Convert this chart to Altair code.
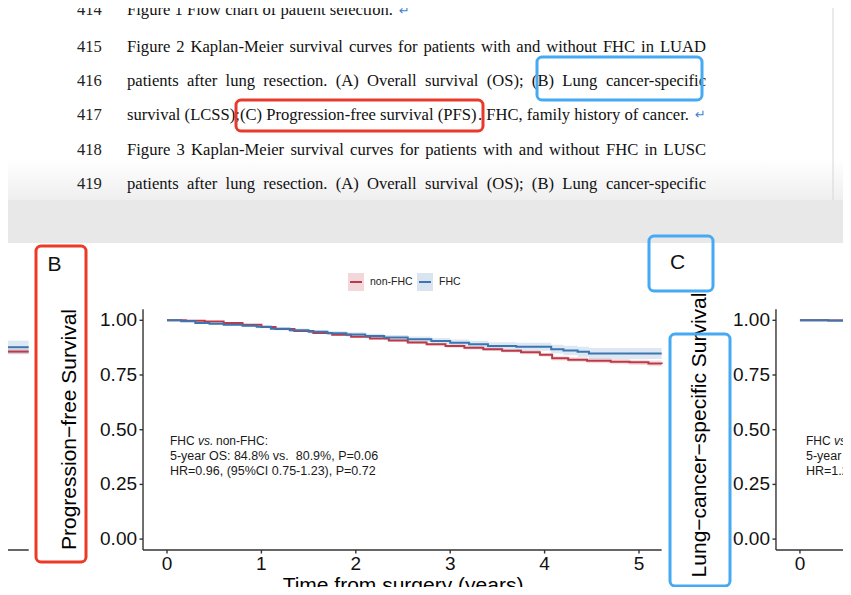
import altair as alt
import pandas as pd

# ---------------- data ----------------
groups = ["non-FHC", "FHC"]
group_colors = ["#BC3A48", "#3A76B1"]
legend_bg = ["#F2D8DB", "#D9E4F0"]

# Panel B (progression-free survival): Kaplan-Meier steps
b_fhc_time = [0.0, 0.15, 0.30, 0.45, 0.60, 0.80, 0.95, 1.10, 1.30, 1.50, 1.70, 1.90, 2.10,
              2.30, 2.55, 2.80, 3.00, 3.20, 3.40, 3.70, 4.07, 4.20, 4.35, 4.47, 5.24]
b_fhc_surv = [1.000, 0.996, 0.988, 0.984, 0.980, 0.975, 0.970, 0.961, 0.954, 0.948, 0.941, 0.935, 0.928,
              0.921, 0.913, 0.905, 0.897, 0.890, 0.883, 0.879, 0.868, 0.862, 0.856, 0.848, 0.848]
b_fhc_ci = [0.000, 0.002, 0.004, 0.004, 0.005, 0.006, 0.006, 0.007, 0.008, 0.008, 0.009, 0.010, 0.011,
            0.012, 0.013, 0.014, 0.015, 0.016, 0.017, 0.018, 0.020, 0.022, 0.023, 0.025, 0.025]
b_non_time = [0.0, 0.20, 0.40, 0.60, 0.80, 1.00, 1.15, 1.35, 1.55, 1.75, 1.95, 2.15, 2.35, 2.55,
              2.75, 2.95, 3.15, 3.35, 3.55, 3.75, 3.95, 4.08, 4.25, 4.45, 4.70, 4.90, 5.10, 5.24]
b_non_surv = [1.000, 0.998, 0.994, 0.988, 0.980, 0.969, 0.960, 0.951, 0.942, 0.934, 0.925, 0.917, 0.908, 0.899,
              0.890, 0.882, 0.874, 0.868, 0.861, 0.854, 0.842, 0.826, 0.820, 0.815, 0.811, 0.808, 0.803, 0.800]
b_non_ci = [0.000, 0.001, 0.002, 0.002, 0.003, 0.003, 0.004, 0.004, 0.004, 0.005, 0.005, 0.005, 0.006, 0.006,
            0.006, 0.007, 0.007, 0.008, 0.008, 0.009, 0.009, 0.010, 0.011, 0.011, 0.012, 0.012, 0.013, 0.013]

# Panel A: only its right-hand end shows at the left edge
a_fhc_time = [4.95, 5.24]
a_fhc_surv = [0.877, 0.877]
a_fhc_ci = [0.030, 0.030]
a_non_time = [4.95, 5.24]
a_non_surv = [0.857, 0.857]
a_non_ci = [0.012, 0.012]

# Panel C: only its start shows at the right edge
c_fhc_time = [0.0, 0.30, 0.55]
c_fhc_surv = [1.000, 0.999, 0.997]
c_fhc_ci = [0.000, 0.001, 0.002]
c_non_time = [0.0, 0.30, 0.55]
c_non_surv = [1.000, 0.999, 0.996]
c_non_ci = [0.000, 0.001, 0.002]

x_ticks = [0, 1, 2, 3, 4, 5]
x_tick_labels = ["0", "1", "2", "3", "4", "5"]
y_ticks = [0.0, 0.25, 0.50, 0.75, 1.00]
y_tick_labels = ["0.00", "0.25", "0.50", "0.75", "1.00"]

doc_numbers = ["414", "415", "416", "417", "418", "419"]
doc_lines = [
    "Figure 1 Flow chart of patient selection.",
    "Figure 2 Kaplan-Meier survival curves for patients with and without FHC in LUAD",
    "patients after lung resection. (A) Overall survival (OS); (B) Lung cancer-specific",
    "survival (LCSS); (C) Progression-free survival (PFS). FHC, family history of cancer.",
    "Figure 3 Kaplan-Meier survival curves for patients with and without FHC in LUSC",
    "patients after lung resection. (A) Overall survival (OS); (B) Lung cancer-specific",
]
doc_justified = [False, True, True, False, True, True]
annot_b = ["FHC", "vs.", "non-FHC:", "5-year OS: 84.8% vs.\u00a0 80.9%, P=0.06",
           "HR=0.96, (95%CI 0.75-1.23), P=0.72"]
annot_c = ["FHC", "vs.", "non-FHC:", "5-year OS", "HR=1.23"]
panel_letters = ["B", "C"]
y_titles = ["Progression\u2212free Survival", "Lung\u2212cancer\u2212specific Survival"]
x_title = "Time from surgery (years)"

# ---------------- layout ----------------
W, H = 835, 579
SHIFT = 6.705            # distance between neighbouring panels, in years
OFF = {"A": -SHIFT, "B": 0.0, "C": SHIFT}
XL, XR = -0.254, 5.24    # axis extent of a panel (years)
YB, YT = -0.05, 1.05     # axis extent of a panel (survival)
PX_PER_YEAR, PX_PER_UNIT = 94.4, 218.8
TICK = 3.5

xs = alt.Scale(domain=[-159 / PX_PER_YEAR, (W - 159) / PX_PER_YEAR], nice=False, zero=False)
ys = alt.Scale(domain=[1 - (H - 312.3) / PX_PER_UNIT, 1 + 312.3 / PX_PER_UNIT], nice=False, zero=False)

SANS = "Liberation Sans"
SERIF = "Liberation Serif"
AXIS_COL = "#333333"
ONE = pd.DataFrame({"d": [0]})
DOC_SIZE = 16.6
DOC_LEFT, DOC_RIGHT = 119, 698

# Times-style advance widths (1/1000 em) used to set justified lines word by word
_TW = {" ": 250, "(": 333, ")": 333, ",": 250, "-": 333, ".": 250, ":": 278, ";": 278,
       "A": 722, "B": 667, "C": 667, "D": 722, "E": 611, "F": 556, "H": 722, "K": 722, "L": 611,
       "M": 889, "O": 722, "P": 556, "S": 556, "U": 722,
       "a": 444, "b": 500, "c": 444, "d": 500, "e": 444, "f": 333, "g": 500, "h": 500, "i": 278,
       "k": 500, "l": 278, "m": 778, "n": 500, "o": 500, "p": 500, "r": 333, "s": 389, "t": 278,
       "u": 500, "v": 500, "w": 722, "y": 500}


def text_width(s, size):
    return sum(_TW.get(ch, 500) for ch in s) / 1000.0 * size


# ---------------- curves ----------------
rows = []
curve_sets = [
    ("A", [(groups[0], a_non_time, a_non_surv, a_non_ci), (groups[1], a_fhc_time, a_fhc_surv, a_fhc_ci)]),
    ("B", [(groups[0], b_non_time, b_non_surv, b_non_ci), (groups[1], b_fhc_time, b_fhc_surv, b_fhc_ci)]),
    ("C", [(groups[0], c_non_time, c_non_surv, c_non_ci), (groups[1], c_fhc_time, c_fhc_surv, c_fhc_ci)]),
]
for panel, series in curve_sets:
    for g, ts, ss, cs in series:
        for t, s, c in zip(ts, ss, cs):
            rows.append({"panel": panel, "group": g, "x": t + OFF[panel], "s": s,
                         "lo": s - c, "hi": s + c, "series": panel + g})
curves = pd.DataFrame(rows)

color = alt.Color("group:N", scale=alt.Scale(domain=groups, range=group_colors), legend=None)

bands = alt.Chart(curves).mark_area(interpolate="step-after", opacity=0.17).encode(
    x=alt.X("x:Q", scale=xs, axis=None),
    y=alt.Y("lo:Q", scale=ys, axis=None),
    y2="hi:Q",
    color=color,
    detail="series:N",
)
lines = alt.Chart(curves).mark_line(interpolate="step-after", strokeWidth=2).encode(
    x=alt.X("x:Q", scale=xs, axis=None),
    y=alt.Y("s:Q", scale=ys, axis=None),
    color=color,
    detail="series:N",
)

# ---------------- custom axes ----------------
ax_rows = []
for p in ["A", "B", "C"]:
    o = OFF[p]
    ax_rows.append({"x": XL + o, "x2": XR + o, "y": YB, "y2": YB})
    if p != "A":
        ax_rows.append({"x": XL + o, "x2": XL + o, "y": YB, "y2": YT})
        for t in x_ticks:
            ax_rows.append({"x": t + o, "x2": t + o, "y": YB, "y2": YB - TICK / PX_PER_UNIT})
        for v in y_ticks:
            ax_rows.append({"x": XL + o, "x2": XL + o - TICK / PX_PER_YEAR, "y": v, "y2": v})
axis_df = pd.DataFrame(ax_rows)
axis_rules = alt.Chart(axis_df).mark_rule(color=AXIS_COL, strokeWidth=1.4).encode(
    x=alt.X("x:Q", scale=xs, axis=None), x2="x2:Q",
    y=alt.Y("y:Q", scale=ys, axis=None), y2="y2:Q",
)

xl_rows, yl_rows = [], []
for p in ["B", "C"]:
    o = OFF[p]
    for t, lab in zip(x_ticks, x_tick_labels):
        xl_rows.append({"x": t + o, "y": YB, "label": lab})
    for v, lab in zip(y_ticks, y_tick_labels):
        yl_rows.append({"x": XL + o, "y": v, "label": lab})
x_labels = alt.Chart(pd.DataFrame(xl_rows)).mark_text(
    font=SANS, fontSize=19, color="#111111", dy=14, baseline="middle", align="center"
).encode(x=alt.X("x:Q", scale=xs, axis=None), y=alt.Y("y:Q", scale=ys, axis=None), text="label:N")
y_labels = alt.Chart(pd.DataFrame(yl_rows)).mark_text(
    font=SANS, fontSize=19, color="#111111", dx=-6, baseline="middle", align="right"
).encode(x=alt.X("x:Q", scale=xs, axis=None), y=alt.Y("y:Q", scale=ys, axis=None), text="label:N")


# ---------------- decoration helpers ----------------
def txt(text, x, y, size, font=SANS, color="#111111", align="left", baseline="middle",
        angle=0, style="normal"):
    return alt.Chart(pd.DataFrame({"label": [text]})).mark_text(
        font=font, fontSize=size, color=color, align=align, baseline=baseline,
        angle=angle, fontStyle=style
    ).encode(x=alt.value(x), y=alt.value(y), text="label:N")


def box(x, x2, y, y2, stroke, width=3, radius=5):
    return alt.Chart(ONE).mark_rect(
        fill="transparent", stroke=stroke, strokeWidth=width, cornerRadius=radius
    ).encode(x=alt.value(x), x2=alt.value(x2), y=alt.value(y), y2=alt.value(y2))


def block(x, x2, y, y2, fill):
    return alt.Chart(ONE).mark_rect(color=fill).encode(
        x=alt.value(x), x2=alt.value(x2), y=alt.value(y), y2=alt.value(y2))


layers = []

# document page background pieces
shade = alt.Gradient(gradient="linear", x1=0, x2=0, y1=0, y2=1,
                     stops=[alt.GradientStop(color="#ffffff", offset=0),
                            alt.GradientStop(color="#efefef", offset=1)])
layers.append(block(0, W, 150, 192, shade))
layers.append(block(0, W, 192, 235, "#e8e8e8"))
layers.append(alt.Chart(ONE).mark_rule(color="#d6d6d6", strokeWidth=1).encode(
    x=alt.value(825), y=alt.value(0), y2=alt.value(192)))

# document text
doc_y = [7, 38.7, 73, 107, 142, 176]
for i, (num, line, just) in enumerate(zip(doc_numbers, doc_lines, doc_justified)):
    base = "alphabetic" if i == 0 else "middle"
    layers.append(txt(num, 69, doc_y[i], DOC_SIZE, font=SERIF, color="#222222", baseline=base))
    if just:
        words = line.split(" ")
        widths = [text_width(w, DOC_SIZE) for w in words]
        gap = (DOC_RIGHT - DOC_LEFT - sum(widths)) / (len(words) - 1)
        xpos = DOC_LEFT
        for k, (w, wd) in enumerate(zip(words, widths)):
            if k == len(words) - 1:
                layers.append(txt(w, DOC_RIGHT, doc_y[i], DOC_SIZE, font=SERIF, color="#111111",
                                  align="right", baseline=base))
            else:
                layers.append(txt(w, xpos, doc_y[i], DOC_SIZE, font=SERIF, color="#111111",
                                  baseline=base))
            xpos += wd + gap
    elif i == 3:
        # "(C) ..." sits just after the semicolon, as in the source page
        head, rest = line.split("; ", 1)
        middle, tail = rest.split(". FHC", 1)
        layers.append(txt(head + ";", DOC_LEFT, doc_y[i], DOC_SIZE, font=SERIF, baseline=base))
        layers.append(txt(middle, 232, doc_y[i], DOC_SIZE, font=SERIF, baseline=base))
        layers.append(txt(". FHC" + tail, 681, doc_y[i], DOC_SIZE, font=SERIF,
                          align="right", baseline=base))
    else:
        layers.append(txt(line, DOC_LEFT, doc_y[i], DOC_SIZE, font=SERIF, color="#111111",
                          baseline=base))
layers.append(txt("\u21b5", 391, doc_y[0], 13, font="DejaVu Sans", color="#3f7fd6", baseline="alphabetic"))
layers.append(txt("\u21b5", 687, doc_y[3], 13, font="DejaVu Sans", color="#3f7fd6"))

# chart layers
layers += [bands, lines, axis_rules, x_labels, y_labels]

# panel texts
layers.append(txt(panel_letters[0], 46.5, 257, 21, align="center"))
layers.append(txt(panel_letters[1], 669.5, 255, 21, align="center"))
layers.append(txt(y_titles[0], 61.5, 421.5, 21, align="center", angle=270, color="#000000"))
layers.append(txt(y_titles[1], 692, 427, 21, align="center", angle=270, color="#000000"))
layers.append(txt(x_title, 395, 567, 21, align="center", baseline="top", color="#000000"))

for base_x, ann in [(162, annot_b), (798, annot_c)]:
    layers.append(txt(ann[0], base_x, 432.7, 12, color="#1a1a1a"))
    layers.append(txt(ann[1], base_x + 28, 432.7, 12, color="#1a1a1a", style="italic"))
    layers.append(txt(ann[2], base_x + 46, 432.7, 12, color="#1a1a1a"))
    layers.append(txt(ann[3], base_x, 448, 12.5, color="#1a1a1a"))
    layers.append(txt(ann[4], base_x, 462.7, 12.5, color="#1a1a1a"))

# legend
for (bx, g, col, bg) in [(340, groups[0], group_colors[0], legend_bg[0]),
                         (409, groups[1], group_colors[1], legend_bg[1])]:
    layers.append(block(bx, bx + 16, 265, 283, bg))
    layers.append(alt.Chart(ONE).mark_rule(color=col, strokeWidth=2).encode(
        x=alt.value(bx + 2), x2=alt.value(bx + 14), y=alt.value(274)))
    layers.append(txt(g, bx + 22, 274, 10.5, color="#222222"))

# highlight boxes
layers.append(box(529, 694, 49, 92, "#45AAF2"))
layers.append(box(228, 475, 92, 123, "#E8392B"))
layers.append(box(28, 78, 238, 554, "#EC3A26"))
layers.append(box(641, 705, 228, 283, "#45AAF2"))
layers.append(box(662, 722, 326, 578, "#45AAF2"))

chart = alt.layer(*layers).properties(
    width=W, height=H, padding=0, autosize=alt.AutoSizeParams(type="none")
).configure_view(stroke=None)

chart.save("out.html", embed_options={"renderer": "svg", "actions": False})
